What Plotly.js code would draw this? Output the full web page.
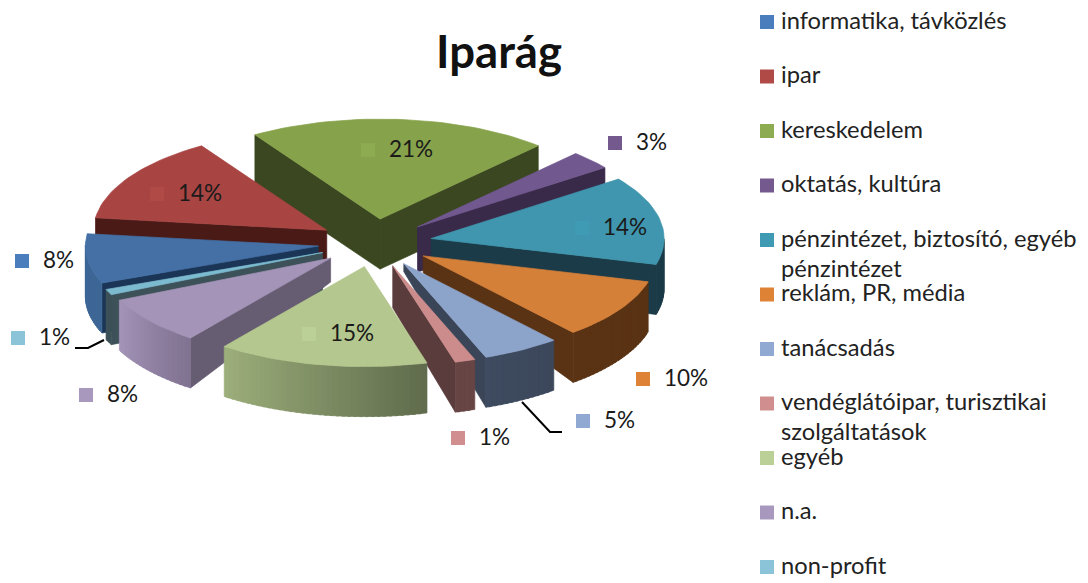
<!DOCTYPE html>
<html><head><meta charset="utf-8">
<script src="https://cdn.plot.ly/plotly-3.0.1.min.js"></script>
<style>html,body{margin:0;padding:0;background:#fff}#c{width:1088px;height:583px}</style>
</head><body><div id="c"></div>
<script>
// ---- data ----
const categories = ["informatika, távközlés","ipar","kereskedelem","oktatás, kultúra","pénzintézet, biztosító, egyéb pénzintézet","reklám, PR, média","tanácsadás","vendéglátóipar, turisztikai szolgáltatások","egyéb","n.a.","non-profit"];
const legendLines = [["informatika, távközlés"],["ipar"],["kereskedelem"],["oktatás, kultúra"],["pénzintézet, biztosító, egyéb","pénzintézet"],["reklám, PR, média"],["tanácsadás"],["vendéglátóipar, turisztikai","szolgáltatások"],["egyéb"],["n.a."],["non-profit"]];
const values = [8,14,20.9,3,14.3,9.7,5.4,1.4,14.6,7.8,0.9];
// ---- styles ----
const topColors  = ["#4470A5","#A84543","#86A24A","#71588F","#3F96AE","#D58039","#8CA3CA","#CB8C8B","#B4C78E","#A494B8","#7CBACF"];
const cutColors  = ["#1B3557","#4A1A17","#3A4720","#3A2A4A","#1B3B48","#5A3314","#3A4558","#5A3C3C","#5F6B4C","#675D73","#3D5159"];
const rimStart   = ["#3E6796","#4A1A17","#4F632B","#3A2A4A","#1B3B48","#5A3314","#3C475A","#684545","#5F6B4C","#807291","#3D5159"];
const rimEnd     = ["#3E6796","#4A1A17","#4F632B","#3A2A4A","#1B3B48","#5A3314","#3E4B60","#684545","#9DAF7B","#A494B8","#3D5159"];
const swatchColors = ["#4A7DBB","#B04A47","#8DAB50","#74598F","#3F9AB4","#DE8236","#8FA9D2","#D08F8E","#BAD096","#A898BE","#8BC3D8"];
const apexDepth  = [50,50,50,45,50,17,8,42,0,24,50];
const labelAnchors = [[22,261],[157,194],[368,150],[615,143],[582,228],[643,379],[583,421],[458,438],[309,334],[86,395],[18,338]];
const leaderX = [[522,550,562],[104,88,75]];
const leaderY = [[402,432,432],[340,348,348]];
// ---- geometry ----
const FONT = "Lato, 'Open Sans', sans-serif";
const cx=375, cy=243, rx=233, ry=100, pullX=0.245, pullY=0.24, wallH=50, firstAngle=-111.7;
const rad = d=>d*Math.PI/180;
const total = values.reduce((a,b)=>a+b,0);
function hex(c){return [1,3,5].map(i=>parseInt(c.substr(i,2),16));}
function mix(a,b,t){const A=hex(a),B=hex(b);return "rgb("+A.map((v,i)=>Math.round(v+(B[i]-v)*t)).join(",")+")";}
let acc=firstAngle;
const slices = values.map((v,i)=>{
  const a0=acc, a1=acc+v/total*360; acc=a1;
  const mid=(a0+a1)/2;
  const ax=cx+pullX*rx*Math.sin(rad(mid)), ay=cy-pullY*ry*Math.cos(rad(mid));
  const pt=a=>[ax+rx*Math.sin(rad(a)), ay-ry*Math.cos(rad(a))];
  return {i,a0,a1,mid,ax,ay,pt};
});
const traces=[];
function poly(pts,color){
  const xs=pts.map(p=>p[0]); const ys=pts.map(p=>p[1]);
  xs.push(xs[0]); ys.push(ys[0]);
  traces.push({type:"scatter",mode:"lines",x:xs,y:ys,fill:"toself",fillcolor:color,
    line:{color:color,width:0.7},hoverinfo:"skip",showlegend:false});
}
[...slices].sort((p,q)=>Math.cos(rad(q.mid))-Math.cos(rad(p.mid))).forEach(s=>{
  const i=s.i, M=s.pt(s.mid), A=[s.ax,s.ay];
  const dA=apexDepth[i];
  [s.a0,s.a1].forEach(a=>{
    const P=s.pt(a);
    const yl=A[1]+(P[1]-A[1])*(M[0]-A[0])/(P[0]-A[0]);
    if(M[1]<yl) poly([A,P,[P[0],P[1]+wallH],[A[0],A[1]+dA]],cutColors[i]);
  });
  // rim wall: only the part that faces the viewer; overlapping strips carry the shading
  const n=Math.max(1,Math.ceil((s.a1-s.a0)/1.5));
  for(let k=0;k<n;k++){
    const b0=s.a0+(s.a1-s.a0)*k/n, b1=s.a0+(s.a1-s.a0)*(k+1)/n;
    if(Math.cos(rad((b0+b1)/2))>=0) continue;
    const P0=s.pt(b0), Pm=s.pt(b1), P1=s.pt(k<n-1?b1+(b1-b0)*0.5:b1);
    poly([P0,Pm,P1,[P1[0],P1[1]+wallH],[Pm[0],Pm[1]+wallH],[P0[0],P0[1]+wallH]],mix(rimStart[i],rimEnd[i],(k+0.5)/n));
  }
  // top face
  const top=[A];
  const m=Math.ceil((s.a1-s.a0)/2)+1;
  for(let k=0;k<=m;k++) top.push(s.pt(s.a0+(s.a1-s.a0)*k/m));
  poly(top,topColors[i]);
});
// leader lines
leaderX.forEach((xs,k)=>traces.push({type:"scatter",mode:"lines",x:xs,y:leaderY[k],line:{color:"#000",width:2},hoverinfo:"skip",showlegend:false}));
// data labels: swatch plus rounded percentage
traces.push({type:"scatter",mode:"markers",x:labelAnchors.map(p=>p[0]),y:labelAnchors.map(p=>p[1]),
  marker:{symbol:"square",size:14,color:swatchColors},hoverinfo:"skip",showlegend:false});
traces.push({type:"scatter",mode:"text",x:labelAnchors.map(p=>p[0]+21),y:labelAnchors.map(p=>p[1]+1),
  text:values.map(v=>Math.round(v)+"%"),textposition:"middle right",
  textfont:{family:FONT,size:22.5,color:"#1a1a1a"},hoverinfo:"skip",showlegend:false});
// legend
const legendX=767, legendTextX=781, legendTop=22, legendStep=54.5, lineGap=30;
traces.push({type:"scatter",mode:"markers",x:categories.map(()=>legendX),y:categories.map((c,i)=>legendTop+i*legendStep),
  marker:{symbol:"square",size:14,color:swatchColors},hoverinfo:"skip",showlegend:false});
const lx=[],ly=[],lt=[];
legendLines.forEach((ls,i)=>ls.forEach((t,j)=>{lx.push(legendTextX);ly.push(legendTop+1+i*legendStep+j*lineGap);lt.push(t);}));
traces.push({type:"scatter",mode:"text",x:lx,y:ly,text:lt,textposition:"middle right",
  textfont:{family:FONT,size:23.7,color:"#222"},hoverinfo:"skip",showlegend:false});

Plotly.newPlot("c",traces,{
  width:1088,height:583,margin:{l:0,r:0,t:0,b:0},paper_bgcolor:"#fff",plot_bgcolor:"#fff",showlegend:false,
  title:{text:"<b>Iparág</b>",x:499/1088,xanchor:"center",y:1-52/583,yanchor:"middle",font:{family:FONT,size:45.5,color:"#111"}},
  xaxis:{range:[0,1088],visible:false,fixedrange:true},
  yaxis:{range:[583,0],visible:false,fixedrange:true}
},{displayModeBar:false,staticPlot:true});
</script></body></html>
